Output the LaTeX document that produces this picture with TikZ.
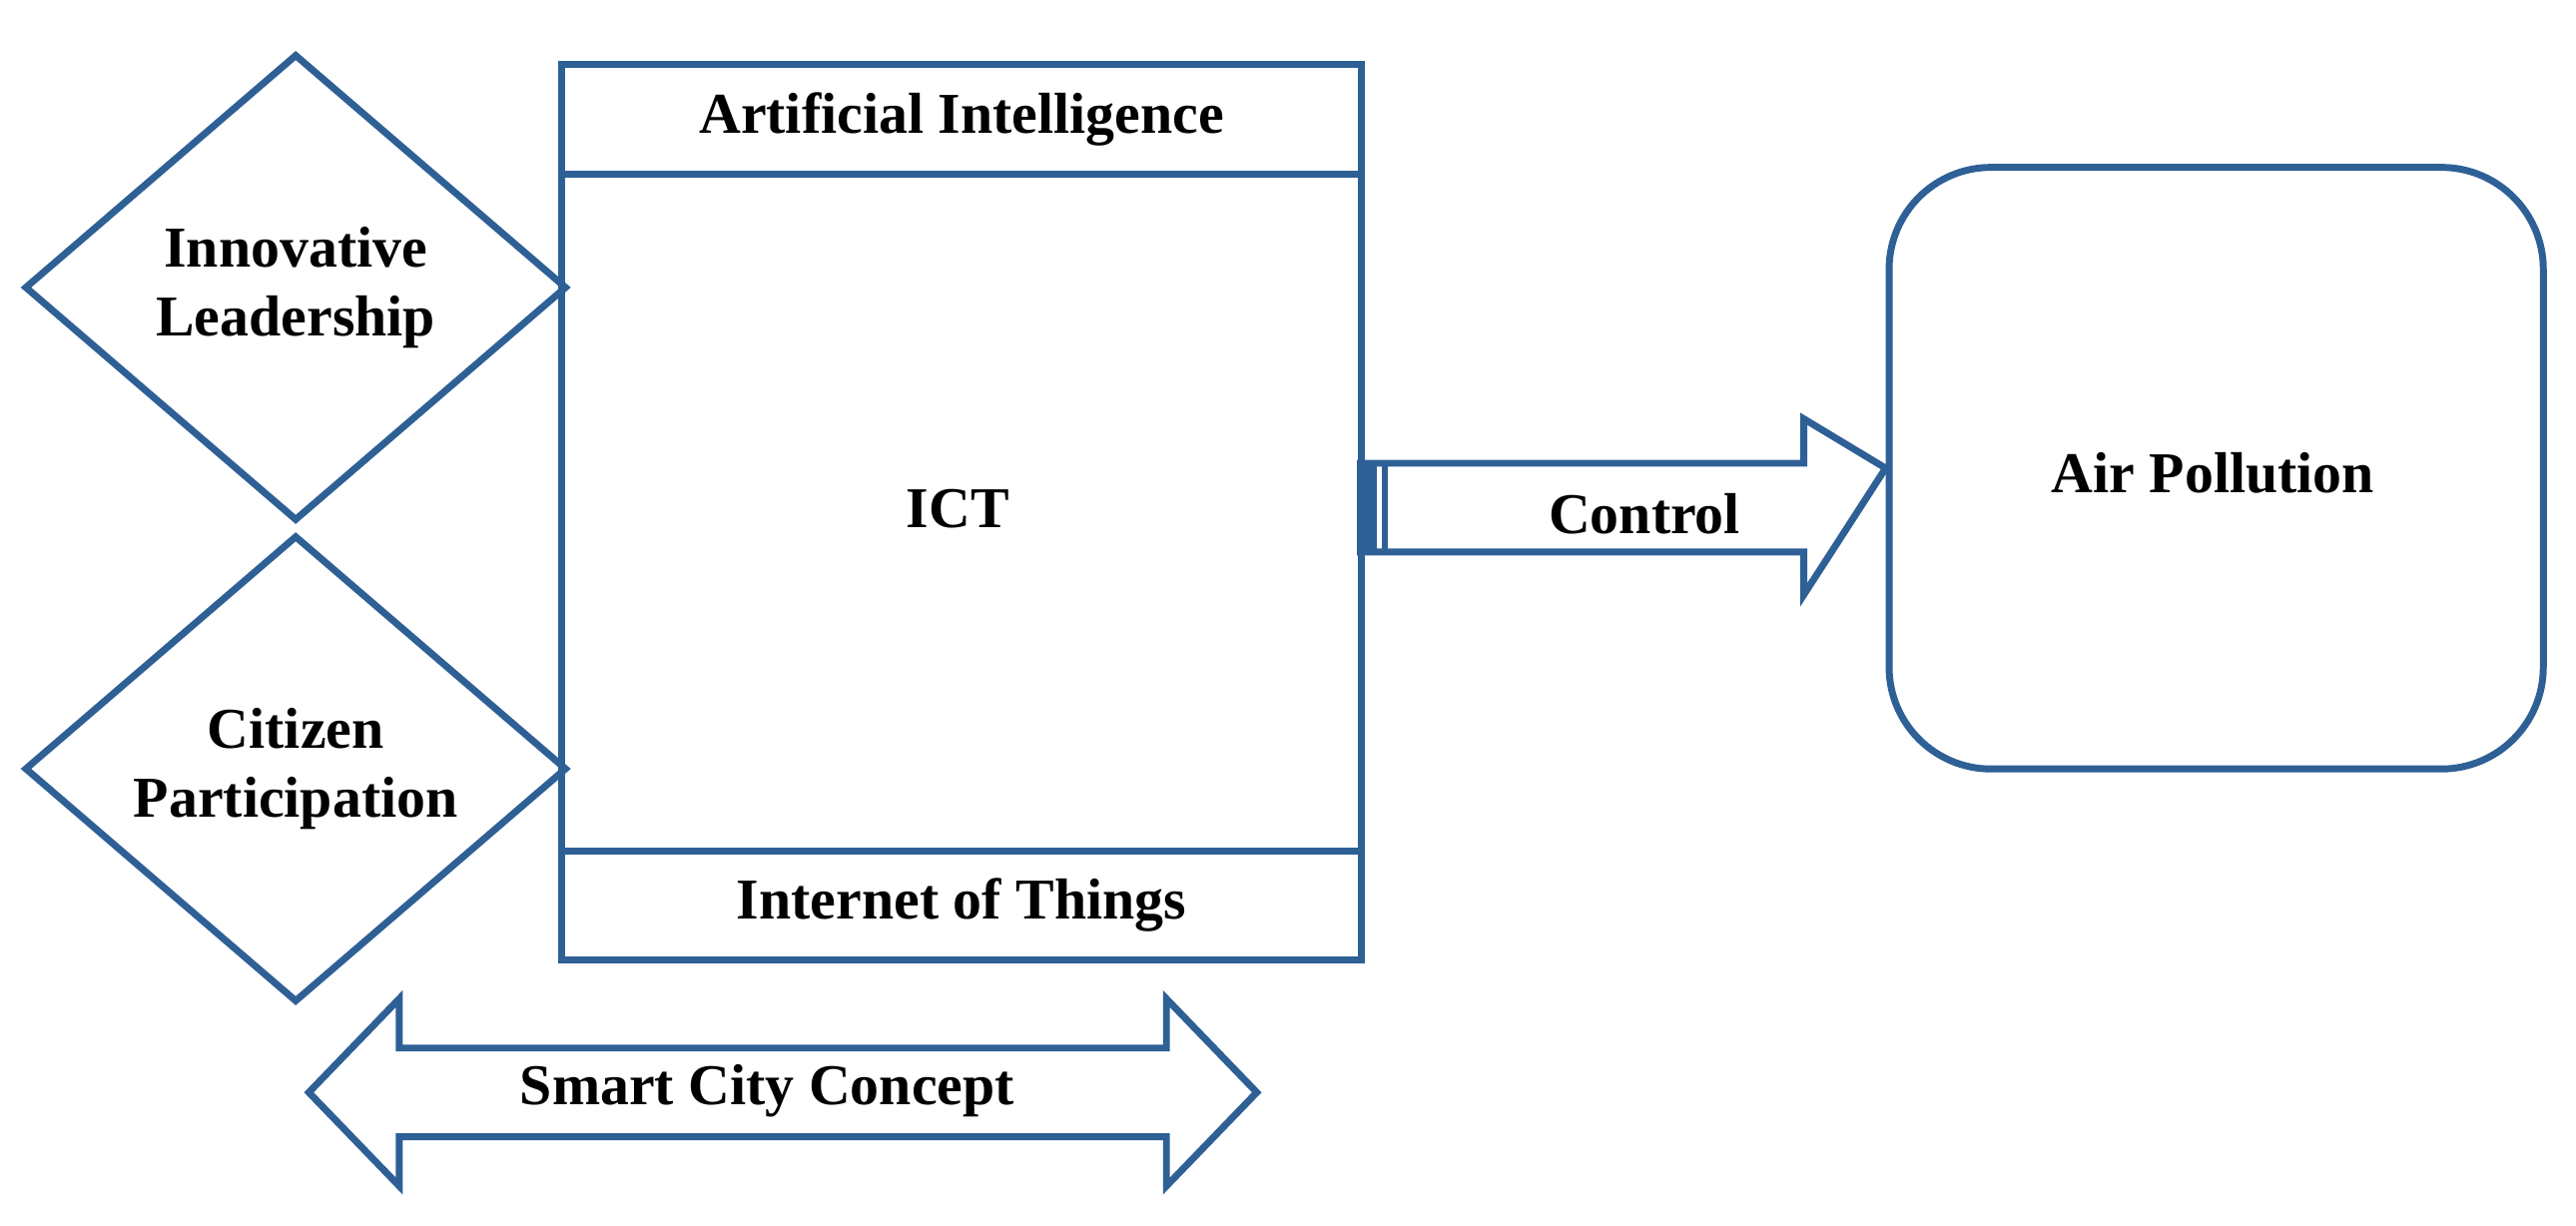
\documentclass[tikz,border=0pt]{standalone}
\usepackage{fontspec}
\setmainfont{Liberation Serif}
\usetikzlibrary{shapes.geometric}
\definecolor{frameblue}{RGB}{46,96,150}
\tikzset{
  box/.style= {
    rectangle,
    draw = frameblue,
    line width = 1.2pt,
    anchor = north west,
    inner sep = 0pt
  },
  factor/.style= {
    diamond,
    draw = frameblue,
    line width = 1.2pt,
    minimum width = 3.3cm,
    minimum height = 2.84cm,
    inner sep = 0pt,
    align = center,
    font = \bfseries
  },
  label/.style= {
    font = \bfseries
  },
  bigarrow/.style= {
    draw = frameblue,
    line width = 1.2pt,
    line join = miter
  }
}
\begin{document}
\begin{tikzpicture}[x=0.01cm,y=-0.01cm,font=\fontsize{9.5}{11.5}\selectfont]
  \useasboundingbox (0,0) rectangle (1568,746);

  \node[box,minimum width=4.86cm,minimum height=0.67cm] (ai) at (340,37) {};
  \node[box,minimum width=4.86cm,minimum height=4.12cm] (ict) at (340,104) {};
  \node[box,minimum width=4.86cm,minimum height=0.66cm] (iot) at (340,516) {};
  \node[label] at (ai.center) {Artificial Intelligence};
  \node[label] at (583,310) {ICT};
  \node[label] at (iot.center) {Internet of Things};

  \node[factor] (lead) at (180,175) {Innovative\\Leadership};
  \node[factor] (cit) at (180,468) {Citizen\\Participation};

  \node[draw=frameblue,line width=1.2pt,rounded corners=0.62cm,
        minimum width=3.98cm,minimum height=3.66cm,label] (air) at (1349,285) {};
  \node[label] at (1347,288) {Air Pollution};

  % control arrow
  \coordinate (c0) at (ict.east |- 0,309);
  \draw[bigarrow] (826,282) -- (1098,282) -- (1098,255) -- (air.west)
    -- (1098,362) -- (1098,336) -- (826,336);
  \fill[frameblue] (826,282) rectangle (838,336);
  \fill[frameblue] (841,282) rectangle (845,336);
  \node[label] at (1001,313) {Control};

  % smart city arrow
  \draw[bigarrow] (243,638) -- (710,638) -- (710,608) -- (765,665)
    -- (710,722) -- (710,692) -- (243,692) -- (243,722) -- (188,665)
    -- (243,608) -- cycle;
  \node[label] (scc) at (467,664) {Smart City Concept};
\end{tikzpicture}
\end{document}
